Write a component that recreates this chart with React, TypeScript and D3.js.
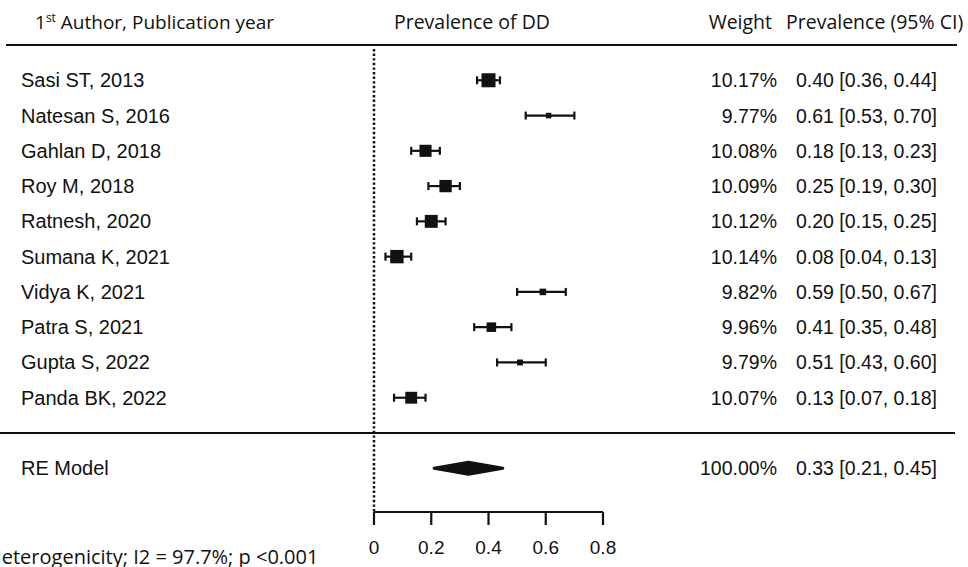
import React from "react";
import * as d3 from "d3";

const studies = [
  "Sasi ST, 2013",
  "Natesan S, 2016",
  "Gahlan D, 2018",
  "Roy M, 2018",
  "Ratnesh, 2020",
  "Sumana K, 2021",
  "Vidya K, 2021",
  "Patra S, 2021",
  "Gupta S, 2022",
  "Panda BK, 2022",
];
const estimates = [0.4, 0.61, 0.18, 0.25, 0.2, 0.08, 0.59, 0.41, 0.51, 0.13];
const lowers = [0.36, 0.53, 0.13, 0.19, 0.15, 0.04, 0.5, 0.35, 0.43, 0.07];
const uppers = [0.44, 0.7, 0.23, 0.3, 0.25, 0.13, 0.67, 0.48, 0.6, 0.18];
const weights = [10.17, 9.77, 10.08, 10.09, 10.12, 10.14, 9.82, 9.96, 9.79, 10.07];
const summaryLabel = "RE Model";
const summary = { est: 0.33, lo: 0.21, hi: 0.45, weight: 100.0 };
const xTicks = [0, 0.2, 0.4, 0.6, 0.8];
const heterogeneityText = "Heterogenicity; I2 = 97.7%; p <0.001";

const W = 968;
const H = 567;
const arial = "'Liberation Sans', Arial, sans-serif";
const segoe = "'Open Sans', 'Noto Sans', sans-serif";

export default function App() {
  const k = studies.length;
  const x = d3.scaleLinear().domain([0, 0.8]).range([374, 603]);
  const y = d3.scaleLinear().domain([k + 1, 0]).range([45, 433]);
  const size = d3.scaleLinear().domain(d3.extent(weights) as [number, number]).range([5.5, 14]);
  const f2 = d3.format(".2f");
  const capH = 4;
  const axisY = 512;
  const tickFmt = (v: number) => (v === 0 ? "0" : d3.format(".1f")(v));

  const rows = studies.map((s, i) => ({
    label: s,
    row: k - i,
    est: estimates[i],
    lo: lowers[i],
    hi: uppers[i],
    w: weights[i],
  }));

  const ys = y(-1);
  const diamond = [
    [x(summary.lo), ys],
    [x(summary.est), ys - 6],
    [x(summary.hi), ys],
    [x(summary.est), ys + 6],
  ];

  return (
    <svg
      width={W}
      height={H}
      style={{ position: "fixed", left: 0, top: 0, background: "#fff" }}
    >
      <rect width={W} height={H} fill="#fff" />
      {/* headers */}
      <text x={35} y={29} fontFamily={segoe} fontSize={19} fill="#111">
        1<tspan fontSize={12} dy={-7}>st</tspan>
        <tspan dy={7}> Author, Publication year</tspan>
      </text>
      <text x={472} y={29} textAnchor="middle" fontFamily={segoe} fontSize={19.5} fill="#111">
        Prevalence of DD
      </text>
      <text x={772} y={29} textAnchor="end" fontFamily={segoe} fontSize={19.5} fill="#111">
        Weight
      </text>
      <text x={786} y={29} fontFamily={segoe} fontSize={19.5} fill="#111">
        Prevalence (95% CI)
      </text>

      {/* horizontal lines */}
      <line x1={6} x2={957} y1={y(k + 1)} y2={y(k + 1)} stroke="#111" strokeWidth={2.2} />
      <line x1={0} x2={955} y1={y(0)} y2={y(0)} stroke="#111" strokeWidth={2.2} />

      {/* reference dotted line */}
      <line
        x1={x(0)}
        x2={x(0)}
        y1={y(k + 1) + 4}
        y2={axisY}
        stroke="#111"
        strokeWidth={2.5}
        strokeDasharray="2.4,2.2"
      />

      {rows.map((r) => {
        const yy = y(r.row);
        const s = size(r.w);
        return (
          <g key={r.label}>
            <text x={21} y={yy + 7} fontFamily={arial} fontSize={20} fill="#111">
              {r.label}
            </text>
            <line x1={x(r.lo)} x2={x(r.hi)} y1={yy} y2={yy} stroke="#111" strokeWidth={2.2} />
            <line x1={x(r.lo)} x2={x(r.lo)} y1={yy - capH} y2={yy + capH} stroke="#111" strokeWidth={2.2} />
            <line x1={x(r.hi)} x2={x(r.hi)} y1={yy - capH} y2={yy + capH} stroke="#111" strokeWidth={2.2} />
            <rect x={x(r.est) - s / 2} y={yy - s / 2} width={s} height={s} fill="#111" />
            <text x={777} y={yy + 7} textAnchor="end" fontFamily={arial} fontSize={19.5} fill="#111">
              {f2(r.w) + "%"}
            </text>
            <text x={796} y={yy + 7} fontFamily={arial} fontSize={19.5} fill="#111">
              {`${f2(r.est)} [${f2(r.lo)}, ${f2(r.hi)}]`}
            </text>
          </g>
        );
      })}

      {/* summary */}
      <text x={21} y={ys + 7} fontFamily={arial} fontSize={20} fill="#111">
        {summaryLabel}
      </text>
      <polygon
        points={diamond.map((p) => p.join(",")).join(" ")}
        fill="#111"
        stroke="#111"
        strokeWidth={3}
        strokeLinejoin="round"
      />
      <text x={777} y={ys + 7} textAnchor="end" fontFamily={arial} fontSize={19.5} fill="#111">
        {f2(summary.weight) + "%"}
      </text>
      <text x={796} y={ys + 7} fontFamily={arial} fontSize={19.5} fill="#111">
        {`${f2(summary.est)} [${f2(summary.lo)}, ${f2(summary.hi)}]`}
      </text>

      {/* axis */}
      <line x1={x(0)} x2={x(0.8)} y1={axisY} y2={axisY} stroke="#111" strokeWidth={2.2} />
      {xTicks.map((t) => (
        <g key={t}>
          <line x1={x(t)} x2={x(t)} y1={axisY} y2={axisY + 13} stroke="#111" strokeWidth={2.2} />
          <text
            x={x(t)}
            y={axisY + 42}
            textAnchor="middle"
            fontFamily={arial}
            fontSize={19}
            fill="#111"
          >
            {tickFmt(t)}
          </text>
        </g>
      ))}

      <text x={-13} y={H - 3} fontFamily={segoe} fontSize={20} fill="#111">
        {heterogeneityText}
      </text>
    </svg>
  );
}
